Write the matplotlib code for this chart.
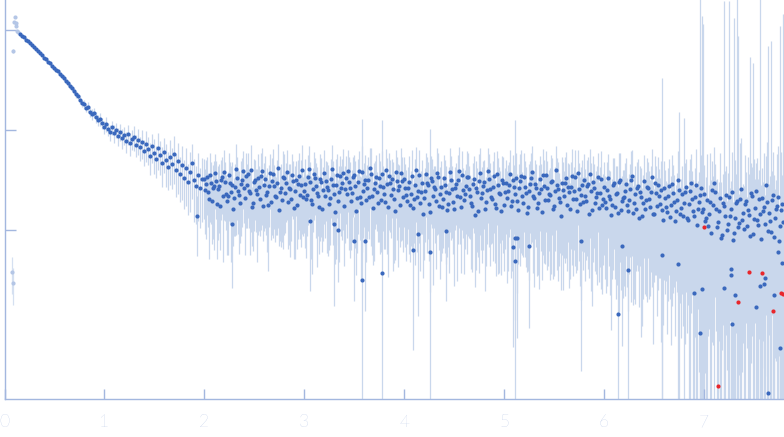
import numpy as np
import matplotlib
matplotlib.use("Agg")
import matplotlib.pyplot as plt

# scattering curve: q in 1/nm, intensity stored as log10 values

# low-q part, q = 0.16 .. 1.98 (step 0.02)
log_low = [-0.04, -0.06, -0.07, -0.10, -0.11, -0.13, -0.15, -0.17, -0.19, -0.21,
           -0.23, -0.25, -0.28, -0.29, -0.32, -0.33, -0.36, -0.38, -0.40, -0.41,
           -0.44, -0.46, -0.48, -0.51, -0.53, -0.56, -0.58, -0.61, -0.64, -0.66,
           -0.70, -0.73, -0.74, -0.78, -0.77, -0.82, -0.84, -0.83, -0.87, -0.90,
           -0.89, -0.93, -0.97, -0.94, -0.99, -1.02, -0.97, -1.03, -1.00, -1.06,
           -1.02, -1.08, -1.05, -1.11, -1.04, -1.13, -1.09, -1.07, -1.15, -1.10,
           -1.17, -1.12, -1.21, -1.14, -1.19, -1.26, -1.16, -1.23, -1.29, -1.18,
           -1.25, -1.33, -1.22, -1.30, -1.37, -1.27, -1.34, -1.24, -1.40, -1.31,
           -1.44, -1.35, -1.48, -1.38, -1.52, -1.42, -1.33, -1.50, -1.56, -1.45,
           -1.58, -1.49]
err_low = [0.03, 0.02, 0.03, 0.02, 0.03, 0.03, 0.02, 0.03, 0.03, 0.02,
           0.03, 0.03, 0.03, 0.04, 0.03, 0.04, 0.03, 0.04,
           0.04, 0.05, 0.04, 0.05, 0.06, 0.05, 0.06, 0.07, 0.06, 0.07, 0.08, 0.07,
           0.09, 0.08, 0.10, 0.09, 0.11, 0.10, 0.12, 0.11, 0.13, 0.12, 0.14, 0.13,
           0.15, 0.17, 0.14, 0.18, 0.16, 0.20, 0.17, 0.21, 0.19, 0.23, 0.20, 0.24,
           0.22, 0.26, 0.23, 0.28, 0.25, 0.30, 0.27, 0.32, 0.29, 0.34, 0.31, 0.36, 0.33,
           0.38, 0.35, 0.40, 0.37, 0.43, 0.39, 0.46, 0.41, 0.48, 0.44, 0.50, 0.46,
           0.53, 0.48, 0.55, 0.51, 0.58, 0.53, 0.60, 0.56, 0.62, 0.58, 0.65, 0.60, 0.63]

# plateau, even bins, q = 2.00 .. 7.78 (step 0.02)
log_high_a = [-1.49, -1.54, -1.62, -1.45, -1.71, -1.56, -1.51, -1.59, -1.76, -1.47,
              -1.42, -1.64, -1.66, -1.53, -1.55, -1.68, -1.39, -1.61, -1.73, -1.50,
              -1.58, -1.46, -1.44, -1.63, -1.77, -1.52, -1.60, -1.48, -1.69, -1.41,
              -1.55, -1.65, -1.75, -1.43, -1.51, -1.56, -1.67, -1.38, -1.62, -1.70,
              -1.48, -1.53, -1.72, -1.59, -1.45, -1.78, -1.50, -1.54, -1.65, -1.40,
              -1.61, -1.69, -1.47, -1.52, -1.74, -1.44, -1.56, -1.66, -1.49, -1.79,
              -1.43, -1.51, -1.60, -1.68, -1.39, -1.64, -1.55, -1.71, -1.46, -1.53,
              -1.76, -1.48, -1.41, -1.58, -1.63, -1.45, -1.81, -1.52, -1.67, -1.42,
              -1.54, -1.70, -1.50, -1.38, -1.66, -1.59, -1.47, -1.73, -1.56, -1.44,
              -1.64, -1.40, -1.77, -1.53, -1.49, -1.69, -1.42, -1.60, -1.75, -1.51,
              -1.49, -1.65, -1.58, -1.75, -1.46, -1.69, -1.40, -1.61, -1.73, -1.53,
              -1.68, -1.44, -1.55, -1.82, -1.51, -1.57, -1.71, -1.47, -1.64, -1.77,
              -1.48, -1.62, -1.74, -1.42, -1.59, -1.79, -1.54, -1.50, -1.67, -1.45,
              -1.70, -1.56, -1.47, -1.66, -1.76, -1.49, -1.58, -1.81, -1.43, -1.63,
              -1.52, -1.72, -1.41, -1.59, -1.69, -1.46, -1.78, -1.55, -1.64, -1.50,
              -1.75, -1.53, -1.61, -1.44, -1.71, -1.57, -1.48, -1.80, -1.51, -1.66,
              -1.47, -1.63, -1.77, -1.54, -1.42, -1.68, -1.58, -1.73, -1.49, -1.82,
              -1.56, -1.45, -1.70, -1.65, -1.51, -1.76, -1.40, -1.59, -1.72, -1.53,
              -1.66, -1.48, -1.57, -1.79, -1.46, -1.61, -1.69, -1.43, -1.74, -1.55,
              -1.50, -1.71, -1.54, -1.44, -1.80, -1.58, -1.67, -1.47, -1.63, -1.75,
              -1.57, -1.78, -1.48, -1.69, -1.75, -1.53, -1.64, -1.83, -1.50, -1.71,
              -1.67, -1.54, -1.81, -1.59, -1.46, -1.73, -1.79, -1.56, -1.62, -1.86,
              -1.51, -1.70, -1.58, -1.77, -1.47, -1.84, -1.63, -1.55, -1.74, -1.80,
              -1.58, -1.77, -1.66, -1.87, -1.54, -1.72, -1.81, -1.50, -1.84, -1.64,
              -1.73, -1.57, -1.90, -1.61, -1.69, -1.86, -1.55, -1.79, -1.65, -1.82,
              -1.64, -1.88, -1.96, -1.72, -1.60, -1.53, -1.79, -1.92, -1.68, -2.05,
              -1.76, -1.65, -1.94, -1.86, -1.62, -2.03, -1.73, -1.97, -1.69, -1.90,
              -1.99, -1.71, -1.80, -2.06, -1.66, -1.89, -1.61, -1.95, -1.84, -1.68,
              -1.77, -1.55, -2.01, -1.91, -1.70, -2.07, -1.79, -1.67, -1.96, -1.74]
err_high_a = [0.60, 0.72, 0.55, 0.66, 0.63, 0.77, 0.58, 0.69, 0.64, 0.57,
              0.67, 0.56, 0.74, 0.61, 0.70, 0.58, 0.78, 0.63, 0.60, 0.66,
              0.55, 0.70, 0.64, 0.76, 0.59, 0.68, 0.62, 0.73, 0.57, 0.71,
              0.65, 0.60, 0.78, 0.56, 0.71, 0.63, 0.58, 0.75, 0.68, 0.62,
              0.73, 0.59, 0.66, 0.79, 0.61, 0.69, 0.56, 0.72, 0.64, 0.77,
              0.62, 0.74, 0.67, 0.58, 0.80, 0.65, 0.70, 0.60, 0.76, 0.63,
              0.69, 0.60, 0.78, 0.66, 0.72, 0.62, 0.82, 0.64, 0.57, 0.73,
              0.75, 0.65, 0.61, 0.80, 0.68, 0.59, 0.77, 0.70, 0.63, 0.84,
              0.63, 0.76, 0.69, 0.60, 0.74, 0.81, 0.66, 0.59, 0.79, 0.70,
              0.72, 0.64, 0.80, 0.68, 0.59, 0.77, 0.65, 0.83, 0.62, 0.74,
              0.67, 0.78, 0.61, 0.73, 0.82, 0.64, 0.70, 0.58, 0.79, 0.69,
              0.76, 0.63, 0.71, 0.84, 0.66, 0.61, 0.79, 0.73, 0.86, 0.65,
              0.70, 0.81, 0.63, 0.75, 0.68, 0.83, 0.61, 0.77, 0.66, 0.72,
              0.82, 0.67, 0.74, 0.63, 0.78, 0.71, 0.85, 0.65, 0.76, 0.80,
              0.66, 0.77, 0.70, 0.83, 0.64, 0.73, 0.79, 0.87, 0.68, 0.75,
              0.78, 0.69, 0.84, 0.72, 0.80, 0.66, 0.76, 0.71, 0.86, 0.74,
              0.72, 0.82, 0.77, 0.68, 0.80, 0.87, 0.74, 0.81, 0.70, 0.79,
              0.83, 0.73, 0.78, 0.86, 0.71, 0.80, 0.75, 0.88, 0.69, 0.81,
              0.76, 0.84, 0.72, 0.80, 0.87, 0.74, 0.82, 0.70, 0.85, 0.78,
              0.81, 0.74, 0.86, 0.77, 0.89, 0.75, 0.83, 0.72, 0.82, 0.87,
              0.79, 0.86, 0.75, 0.89, 0.82, 0.78, 0.91, 0.80, 0.85, 0.77,
              0.87, 0.81, 0.90, 0.79, 0.84, 0.89, 0.76, 0.86, 0.82, 0.92,
              0.83, 0.89, 0.80, 0.87, 0.92, 0.79, 0.85, 0.91, 0.82, 20.0,
              0.88, 0.82, 0.91, 0.85, 0.94, 0.86, 0.80, 0.93, 0.87, 0.90,
              6.0, 0.91, 0.86, 1.10, 0.89, 0.94, 1.30, 0.90, 120.0, 90.0,
              0.95, 1.60, 0.92, 2.10, 0.97, 1.30, 0.94, 0.98, 1.80, 0.93,
              110.0, 0.96, 2.20, 0.91, 1.50, 140.0, 0.95, 80.0, 2.60, 0.97,
              1.70, 0.94, 2.40, 60.0, 0.96, 3.00, 0.92, 1.90, 150.0, 0.98,
              2.50, 0.95, 70.0, 1.80, 0.93, 3.20, 0.97, 2.20, 100.0, 0.96]

# plateau, odd bins, q = 2.01 .. 7.79 (step 0.02)
log_high_b = [-1.60, -1.47, -1.69, -1.53, -1.58, -1.43, -1.74, -1.56, -1.50, -1.66,
              -1.52, -1.71, -1.45, -1.62, -1.79, -1.57, -1.48, -1.65, -1.54, -1.41,
              -1.68, -1.55, -1.61, -1.40, -1.73, -1.50, -1.64, -1.57, -1.46, -1.76,
              -1.49, -1.62, -1.56, -1.72, -1.44, -1.66, -1.53, -1.80, -1.58, -1.47,
              -1.63, -1.42, -1.58, -1.69, -1.51, -1.61, -1.75, -1.46, -1.55, -1.67,
              -1.54, -1.65, -1.39, -1.70, -1.59, -1.48, -1.63, -1.77, -1.52, -1.60,
              -1.66, -1.57, -1.74, -1.49, -1.55, -1.82, -1.45, -1.62, -1.58, -1.43,
              -1.59, -1.64, -1.52, -1.71, -1.47, -1.56, -1.68, -1.41, -1.73, -1.61,
              -1.50, -1.58, -1.67, -1.44, -1.78, -1.53, -1.62, -1.48, -1.70, -1.57,
              -1.72, -1.54, -1.46, -1.65, -1.59, -1.81, -1.51, -1.56, -1.43, -1.67,
              -1.58, -1.71, -1.52, -1.64, -1.78, -1.55, -1.67, -1.45, -1.62, -1.84,
              -1.61, -1.53, -1.74, -1.48, -1.66, -1.59, -1.43, -1.76, -1.57, -1.69,
              -1.55, -1.80, -1.63, -1.50, -1.72, -1.58, -1.66, -1.41, -1.77, -1.60,
              -1.64, -1.47, -1.59, -1.73, -1.54, -1.85, -1.62, -1.51, -1.68, -1.56,
              -1.79, -1.60, -1.49, -1.67, -1.57, -1.74, -1.44, -1.63, -1.81, -1.53,
              -1.62, -1.68, -1.55, -1.76, -1.50, -1.64, -1.71, -1.58, -1.46, -1.73,
              -1.57, -1.83, -1.61, -1.48, -1.66, -1.54, -1.78, -1.63, -1.59, -1.45,
              -1.70, -1.58, -1.64, -1.52, -1.79, -1.61, -1.55, -1.68, -1.86, -1.60,
              -1.53, -1.75, -1.62, -1.57, -1.69, -1.47, -1.81, -1.59, -1.65, -1.72,
              -1.66, -1.56, -1.84, -1.61, -1.52, -1.73, -1.63, -1.78, -1.49, -1.69,
              -1.72, -1.60, -1.66, -1.85, -1.55, -1.77, -1.63, -1.52, -1.80, -1.68,
              -1.61, -1.75, -1.70, -1.50, -1.83, -1.64, -1.58, -1.88, -1.67, -1.73,
              -1.79, -1.57, -1.69, -1.62, -1.84, -1.53, -1.76, -1.66, -1.60, -1.90,
              -1.68, -1.82, -1.56, -1.75, -1.63, -1.91, -1.70, -1.60, -1.78, -1.86,
              -1.62, -1.88, -1.74, -1.53, -1.81, -1.67, -1.95, -1.72, -1.58, -1.79,
              -1.91, -1.70, -1.84, -2.03, -1.75, -1.62, -1.97, -1.81, -2.08, -1.73,
              -1.86, -2.00, -1.67, -1.79, -2.10, -1.88, -1.71, -1.93, -1.59, -1.83,
              -1.74, -1.96, -1.85, -1.63, -2.04, -1.78, -1.90, -1.69, -2.09, -1.81,
              -1.94, -1.72, -1.83, -2.02, -1.65, -1.88, -1.76, -2.11, -1.80, -1.92]
err_high_b = [0.64, 0.58, 0.75, 0.61, 0.69, 0.56, 0.72, 0.66, 0.60, 0.78,
              0.59, 0.71, 0.65, 0.80, 0.57, 0.68, 0.62, 0.74, 0.70, 0.58,
              0.73, 0.63, 0.57, 0.76, 0.67, 0.60, 0.79, 0.64, 0.71, 0.55,
              0.68, 0.75, 0.61, 0.58, 0.77, 0.65, 0.70, 0.56, 0.74, 0.81,
              0.60, 0.67, 0.73, 0.62, 0.58, 0.79, 0.64, 0.71, 0.76, 0.59,
              0.77, 0.61, 0.68, 0.74, 0.63, 0.57, 0.82, 0.66, 0.72, 0.69,
              0.62, 0.78, 0.65, 0.59, 0.75, 0.70, 0.63, 0.80, 0.67, 0.73,
              0.71, 0.64, 0.79, 0.68, 0.60, 0.76, 0.72, 0.58, 0.83, 0.66,
              0.78, 0.69, 0.62, 0.81, 0.73, 0.65, 0.59, 0.77, 0.70, 0.64,
              0.66, 0.80, 0.71, 0.63, 0.85, 0.68, 0.74, 0.61, 0.79, 0.72,
              0.74, 0.63, 0.81, 0.70, 0.66, 0.84, 0.72, 0.79, 0.62, 0.77,
              0.69, 0.80, 0.73, 0.65, 0.87, 0.71, 0.76, 0.64, 0.82, 0.68,
              0.79, 0.66, 0.84, 0.75, 0.70, 0.62, 0.86, 0.73, 0.78, 0.67,
              0.72, 0.83, 0.68, 0.78, 0.64, 0.81, 0.75, 0.88, 0.70, 0.77,
              0.85, 0.71, 0.79, 0.66, 0.82, 0.74, 0.69, 0.84, 0.77, 0.80,
              0.73, 0.86, 0.70, 0.81, 0.76, 0.68, 0.88, 0.75, 0.83, 0.71,
              0.80, 0.74, 0.87, 0.78, 0.83, 0.72, 0.79, 0.89, 0.76, 0.84,
              0.77, 0.85, 0.73, 0.88, 0.80, 0.75, 0.86, 0.79, 0.82, 0.90,
              0.84, 0.78, 0.89, 0.76, 0.83, 0.87, 0.74, 0.81, 0.91, 0.79,
              0.86, 0.80, 0.77, 0.90, 0.84, 0.79, 0.88, 0.82, 0.92, 0.78,
              0.83, 0.89, 0.80, 0.93, 0.86, 0.81, 0.88, 0.95, 0.84, 0.90,
              0.91, 0.85, 0.82, 0.94, 0.88, 0.92, 0.83, 0.87, 0.96, 0.89,
              0.86, 0.93, 0.90, 0.84, 0.95, 0.88, 0.92, 0.85, 0.97, 0.91,
              0.89, 0.94, 0.87, 0.96, 0.90, 0.93, 0.88, 5.0, 0.95, 0.92,
              0.97, 0.93, 1.20, 0.95, 1.05, 0.96, 1.40, 0.98, 1.15, 70.0,
              0.97, 1.90, 0.93, 2.40, 0.96, 0.91, 2.00, 0.95, 2.60, 0.94,
              1.80, 0.96, 90.0, 0.92, 1.40, 2.80, 130.0, 0.97, 2.20, 0.95,
              2.10, 0.94, 1.60, 0.98, 50.0, 0.93, 3.20, 0.96, 2.50, 0.95,
              0.97, 3.00, 0.94, 80.0, 1.70, 0.96, 2.30, 0.93, 2.80, 120.0]

# points that sit well below the curve
q_out = [1.93, 2.28, 3.06, 3.30, 3.34, 3.50, 3.58, 3.61, 3.78, 4.09,
         4.14, 4.26, 4.42, 5.09, 5.11, 5.11, 5.13, 5.25, 5.77, 6.14,
         6.18, 6.24, 6.58, 6.74, 6.90, 6.96, 6.98, 7.20, 7.27, 7.27,
         7.28, 7.31, 7.52, 7.56, 7.60, 7.61, 7.64, 7.70, 7.74, 7.76, 7.78]
log_out = [-1.86, -1.94, -1.91, -1.94, -2.00, -2.11, -2.50, -2.11, -2.43, -2.20,
           -2.04, -2.22, -2.01, -2.17, -2.31, -2.08, -2.08, -2.16, -2.11, -2.84,
           -2.16, -2.40, -2.25, -2.34, -2.63, -3.03, -2.59, -2.58, -2.39, -2.45,
           -2.94, -2.65, -2.77, -2.56, -2.54, -2.48, -3.63, -2.65, -2.22, -3.18, -2.33]
err_out = [0.6, 0.77, 0.8, 0.85, 0.7, 0.75, 40.0, 0.8, 33.0, 0.9,
           0.85, 16.0, 0.8, 0.9, 25.0, 0.85, 0.9, 0.85, 0.95, 1.5,
           0.9, 1.2, 1.1, 1.3, 1.6, 2.0, 1.4, 2.5, 1.8, 2.2,
           3.0, 2.0, 2.4, 1.9, 2.6, 1.7, 4.0, 2.1, 1.5, 3.0, 2.2]

# outliers flagged in red
q_red = [7.00, 7.14, 7.34, 7.45, 7.58, 7.69, 7.77, 7.79]
log_red = [-1.97, -3.56, -2.72, -2.42, -2.43, -2.81, -2.63, -2.64]
err_red = [1.5, 3.0, 2.0, 1.8, 2.2, 2.5, 1.9, 2.1]

# excluded points at the lowest q
q_excl = [0.11, 0.10, 0.12, 0.12, 0.13, 0.14, 0.09, 0.08, 0.09]
log_excl = [0.13, 0.08, 0.07, 0.04, -0.01, -0.02, -0.21, -2.42, -2.53]
err_excl = [0.03, 0.03, 0.03, 0.03, 0.03, 0.03, 0.05, 0.4, 0.4]

x_ticks = [0, 1, 2, 3, 4, 5, 6, 7]
y_ticks = [1.0, 0.1, 0.01]

AXIS = "#a3b7df"
DOT = "#3a68bd"
BAR = "#c9d7ec"
RED = "#e8262b"
PALE = "#b4c6e6"

q_low = np.round(0.16 + 0.02 * np.arange(len(log_low)), 3)
q_a = np.round(2.0 + 0.02 * np.arange(len(log_high_a)), 3)
q_b = np.round(2.01 + 0.02 * np.arange(len(log_high_b)), 3)

q_main = np.concatenate([q_low, q_a, q_b])
i_main = 10.0 ** np.array(log_low + log_high_a + log_high_b)
e_main = i_main * np.array(err_low + err_high_a + err_high_b)

i_out = 10.0 ** np.array(log_out)
e_out = i_out * np.array(err_out)
i_red = 10.0 ** np.array(log_red)
e_red = i_red * np.array(err_red)
i_excl = 10.0 ** np.array(log_excl)
e_excl = i_excl * np.array(err_excl)

y_min, y_max = 10 ** -3.69, 10 ** 0.30


def err_bars(ax, q, i, e, color):
    lo = np.maximum(i - e, y_min * 0.5)
    ax.vlines(q, lo, i + e, color=color, lw=0.9, zorder=1)


fig = plt.figure(figsize=(7.84, 4.37), dpi=100)
ax = fig.add_axes([4.5 / 784, 38 / 437, 779.5 / 784, 399 / 437])
ax.set_yscale("log")

err_bars(ax, q_main, i_main, e_main, BAR)
err_bars(ax, q_out, i_out, e_out, BAR)
err_bars(ax, q_red, i_red, e_red, BAR)
err_bars(ax, q_excl, i_excl, e_excl, "#d5e0f1")

ax.scatter(q_excl, i_excl, s=9, color=PALE, lw=0, zorder=3)
ax.scatter(q_main, i_main, s=9, color=DOT, lw=0, zorder=3)
ax.scatter(q_out, i_out, s=9, color=DOT, lw=0, zorder=3)
ax.scatter(q_red, i_red, s=9, color=RED, lw=0, zorder=4)

ax.set_xlim(0, 7.80)
ax.set_ylim(y_min, y_max)

for s in ["top", "right"]:
    ax.spines[s].set_visible(False)
for s in ["left", "bottom"]:
    ax.spines[s].set_color(AXIS)
    ax.spines[s].set_linewidth(1.0)

ax.set_xticks(x_ticks)
ax.set_xticklabels([str(t) for t in x_ticks], fontsize=12.5,
                   family=["Lato", "DejaVu Sans"], fontweight="light", color=AXIS)
ax.set_yticks(y_ticks)
ax.set_yticklabels([])
ax.yaxis.set_minor_locator(matplotlib.ticker.NullLocator())
ax.tick_params(axis="x", direction="in", length=7, width=1, color=AXIS, pad=11)
ax.tick_params(axis="y", direction="in", length=8, width=1, color=AXIS)

fig.savefig("out.png", dpi=100)
